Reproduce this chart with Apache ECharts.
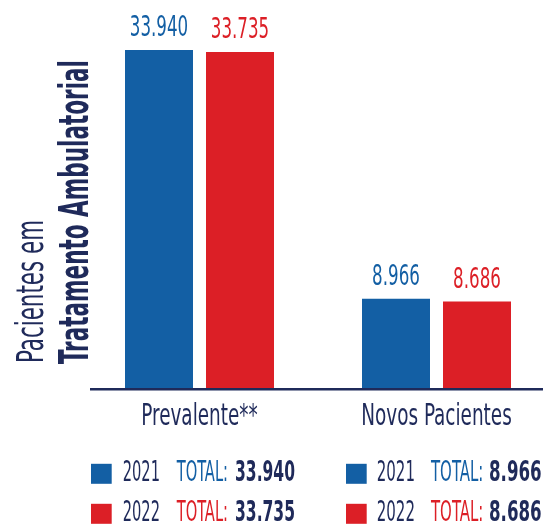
<!DOCTYPE html>
<html>
<head>
<meta charset="utf-8">
<script src="https://cdn.jsdelivr.net/npm/echarts@6/dist/echarts.min.js"></script>
<style>html,body{margin:0;padding:0;background:#fff;}#c{width:543px;height:527px;}</style>
</head>
<body>
<div id="c"></div>
<script>
const categories = ['Prevalente**', 'Novos Pacientes'];
const years = ['2021', '2022'];
const values2021 = [33940, 8966];
const values2022 = [33735, 8686];
const axisTitle = ['Pacientes em', 'Tratamento Ambulatorial'];
const totalLabel = 'TOTAL:';

const BLUE = '#135fa4', RED = '#dc1f26', NAVY = '#1f2a5a';
const FONT = "'DejaVu Sans Condensed', 'Liberation Sans', sans-serif";
const fmt = v => String(v).replace(/\B(?=(\d{3})+(?!\d))/g, '.');

const mctx = document.createElement('canvas').getContext('2d');
function measure(text, size, weight) {
  mctx.font = (weight || 'normal') + ' ' + size + 'px ' + FONT;
  return mctx.measureText(text).width;
}
function fitText(text, x, y, width, size, weight, color, rotation) {
  const w = measure(text, size, weight);
  return {
    type: 'text', x: x, y: y, rotation: rotation || 0, scaleX: width / w, scaleY: 1,
    style: { text: text, fontSize: size, fontWeight: weight || 'normal', fontFamily: FONT, fill: color,
      textAlign: 'left', textVerticalAlign: 'middle', align: 'left', verticalAlign: 'middle' }
  };
}

const BAR_W = 68, BAR_GAP = 13;
const LABEL_SIZE = 29;
const labelScale = 58.4 / measure('33.940', LABEL_SIZE, 'normal');
const CAT_SIZE = 30;
const catScale = (117 + 150) / (measure(categories[0], CAT_SIZE) + measure(categories[1], CAT_SIZE));

const series = [];
[values2021, values2022].forEach((vals, i) => {
  const color = i === 0 ? BLUE : RED;
  series.push({
    name: years[i], type: 'bar', data: vals, barWidth: BAR_W, barGap: (BAR_GAP / BAR_W * 100) + '%',
    itemStyle: { color: color }
  });
  const off = (i === 0 ? -1 : 1) * (BAR_W + BAR_GAP) / 2;
  series.push({
    name: years[i] + ' label', type: 'custom', z: 5,
    data: vals.map((v, k) => [k, v]),
    encode: { x: 0, y: 1 },
    renderItem: (params, api) => {
      const p = api.coord([api.value(0), api.value(1)]);
      return {
        type: 'text', x: p[0] + off, y: p[1] - 21.3, scaleX: labelScale, scaleY: 1,
        style: { text: fmt(api.value(1)), fontSize: LABEL_SIZE, fontFamily: FONT, fill: color,
          align: 'center', verticalAlign: 'middle', textAlign: 'center', textVerticalAlign: 'middle' }
      };
    }
  });
});
// category names, placed through the category axis
series.push({
  name: 'categories', type: 'custom', z: 5,
  data: categories.map((c, k) => [k, 0]),
  encode: { x: 0, y: 1 },
  renderItem: (params, api) => {
    const p = api.coord([api.value(0), 0]);
    return {
      type: 'text', x: p[0], y: p[1] + 29.5, scaleX: catScale, scaleY: 1,
      style: { text: categories[params.dataIndex], fontSize: CAT_SIZE, fontFamily: FONT, fill: NAVY,
        align: 'center', verticalAlign: 'middle', textAlign: 'center', textVerticalAlign: 'middle' }
    };
  },
  clip: false
});

const graphic = [];
graphic.push(fitText(axisTitle[0], 33, 363, 143, 37, 'normal', NAVY, Math.PI / 2));
graphic.push(fitText(axisTitle[1], 77, 364, 304, 41, 'bold', NAVY, Math.PI / 2));
graphic.push({ type: 'line', shape: { x1: 90, y1: 389.2, x2: 543, y2: 389.2 }, style: { stroke: NAVY, lineWidth: 2.6 }, z: 10 });
const cols = [
  { sq: 91, yr: [122.7, 37.3], tot: [176.7, 51.3], val: [235, 60] },
  { sq: 346, yr: [376.7, 38.3], tot: [431, 52.3], val: [489, 52.7] }
];
const rowsY = [473.8, 513.8];
[values2021, values2022].forEach((vals, r) => {
  cols.forEach((c, k) => {
    const y = rowsY[r];
    const color = r === 0 ? BLUE : RED;
    graphic.push({ type: 'rect', shape: { x: c.sq, y: y - 10, width: 20.7, height: 20 }, style: { fill: color } });
    graphic.push(fitText(years[r], c.yr[0], y, c.yr[1], 29, 'normal', NAVY));
    graphic.push(fitText(totalLabel, c.tot[0], y, c.tot[1], 29, 'normal', color));
    graphic.push(fitText(fmt(vals[k]), c.val[0], y, c.val[1], 29, 'bold', NAVY));
  });
});

const chart = echarts.init(document.getElementById('c'), null, { renderer: 'canvas' });
chart.setOption({
  animation: false,
  backgroundColor: '#ffffff',
  grid: { left: 81, width: 474, top: 49.4, bottom: 139, containLabel: false, outerBoundsMode: 'none' },
  xAxis: { type: 'category', data: categories,
    axisLine: { show: false }, axisTick: { show: false }, axisLabel: { show: false } },
  yAxis: { type: 'value', min: 0, max: 34000, show: false, splitLine: { show: false } },
  series: series,
  graphic: graphic
});
</script>
</body>
</html>
